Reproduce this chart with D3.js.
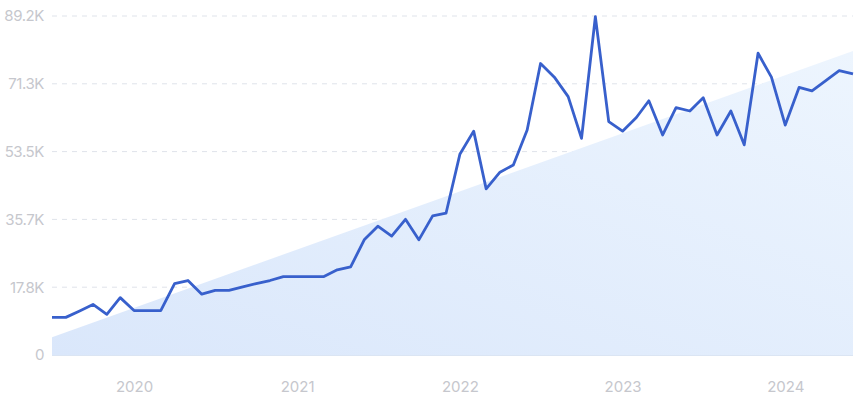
<!DOCTYPE html>
<html><head><meta charset="utf-8">
<script src="https://cdn.jsdelivr.net/npm/d3@7"></script>
<style>html,body{margin:0;padding:0;background:#fff;}svg{display:block;}</style>
</head><body><svg id="c" width="861" height="401"></svg>
<script>
const startMonth = "2019-07";
const values = [9.9,9.9,11.6,13.3,10.7,15.1,11.7,11.7,11.7,18.8,19.6,16.0,17.0,17.0,17.9,18.8,19.6,20.6,
 20.6,20.6,20.6,22.4,23.2,30.4,33.9,31.3,35.7,30.3,36.6,37.3,
 52.8,58.9,43.7,48.1,50.0,59.2,76.7,73.1,68.0,57.0,89.0,61.4,
 58.9,62.5,66.9,57.9,65.1,64.2,67.7,57.9,64.2,55.3,79.4,73.1,
 60.5,70.4,69.5,72.2,74.8,74.0];
const trendValues = [4.7, 80.0];
const yTicks = [0, 17.84, 35.68, 53.52, 71.36, 89.2];
const yTickLabels = ["0","17.8K","35.7K","53.5K","71.3K","89.2K"];
const yearTicks = ["2020","2021","2022","2023","2024"];

const FONT = "Inter, 'Noto Sans', sans-serif";
const parse = d3.timeParse("%Y-%m");
const t0 = parse(startMonth);
const dates = values.map((v,i)=>d3.timeMonth.offset(t0,i));
const data = values.map((v,i)=>({d:dates[i], v}));

const svg = d3.select("#c");
const L=52, R=853, T=16, B=355;
const x = d3.scaleTime().domain([dates[0], dates[dates.length-1]]).range([L,R]);
const y = d3.scaleLinear().domain([0,89.2]).range([B,T]);

const defs = svg.append("defs");
const g = defs.append("linearGradient").attr("id","tg").attr("x1","0").attr("y1","1").attr("x2","1").attr("y2","0");
g.append("stop").attr("offset","0").attr("stop-color","#dae7fb");
g.append("stop").attr("offset","1").attr("stop-color","#edf5fe");

// y axis + grid
const yAxis = d3.axisLeft(y).tickValues(yTicks).tickFormat((d,i)=>yTickLabels[i]).tickSize(0).tickPadding(8);
const ga = svg.append("g").attr("transform",`translate(${L},0)`).call(yAxis)
  .attr("font-family",FONT).attr("font-size",15);
ga.select(".domain").remove();
ga.selectAll("text").attr("fill","#c6c7cd").attr("letter-spacing","-0.4");
svg.append("g").selectAll("line").data(yTicks.filter(d=>d>0)).join("line")
  .attr("x1",L).attr("x2",R).attr("y1",d=>y(d)).attr("y2",d=>y(d))
  .attr("stroke","#dfe3ea").attr("stroke-dasharray","5,5").attr("stroke-width",1);

// trend area
const trend = [{d:dates[0], v:trendValues[0]},{d:dates[dates.length-1], v:trendValues[1]}];
svg.append("path").datum(trend)
  .attr("d", d3.area().x(d=>x(d.d)).y0(B).y1(d=>y(d.v)))
  .attr("fill","url(#tg)");
svg.append("line").attr("x1",L).attr("x2",R).attr("y1",B+0.5).attr("y2",B+0.5).attr("stroke","#dbe5f3").attr("stroke-width",1);

// x axis
const xAxis = d3.axisBottom(x).tickValues(yearTicks.map(s=>d3.timeParse("%Y")(s))).tickFormat(d3.timeFormat("%Y")).tickSize(0).tickPadding(26);
const gx = svg.append("g").attr("transform",`translate(0,${B})`).call(xAxis)
  .attr("font-family",FONT).attr("font-size",15);
gx.select(".domain").remove();
gx.selectAll("text").attr("fill","#c6c7cd");

// line
svg.append("path").datum(data)
  .attr("d", d3.line().x(d=>x(d.d)).y(d=>y(d.v)))
  .attr("fill","none").attr("stroke","#3860cc").attr("stroke-width",2.8).attr("stroke-linejoin","round");
</script></body></html>
